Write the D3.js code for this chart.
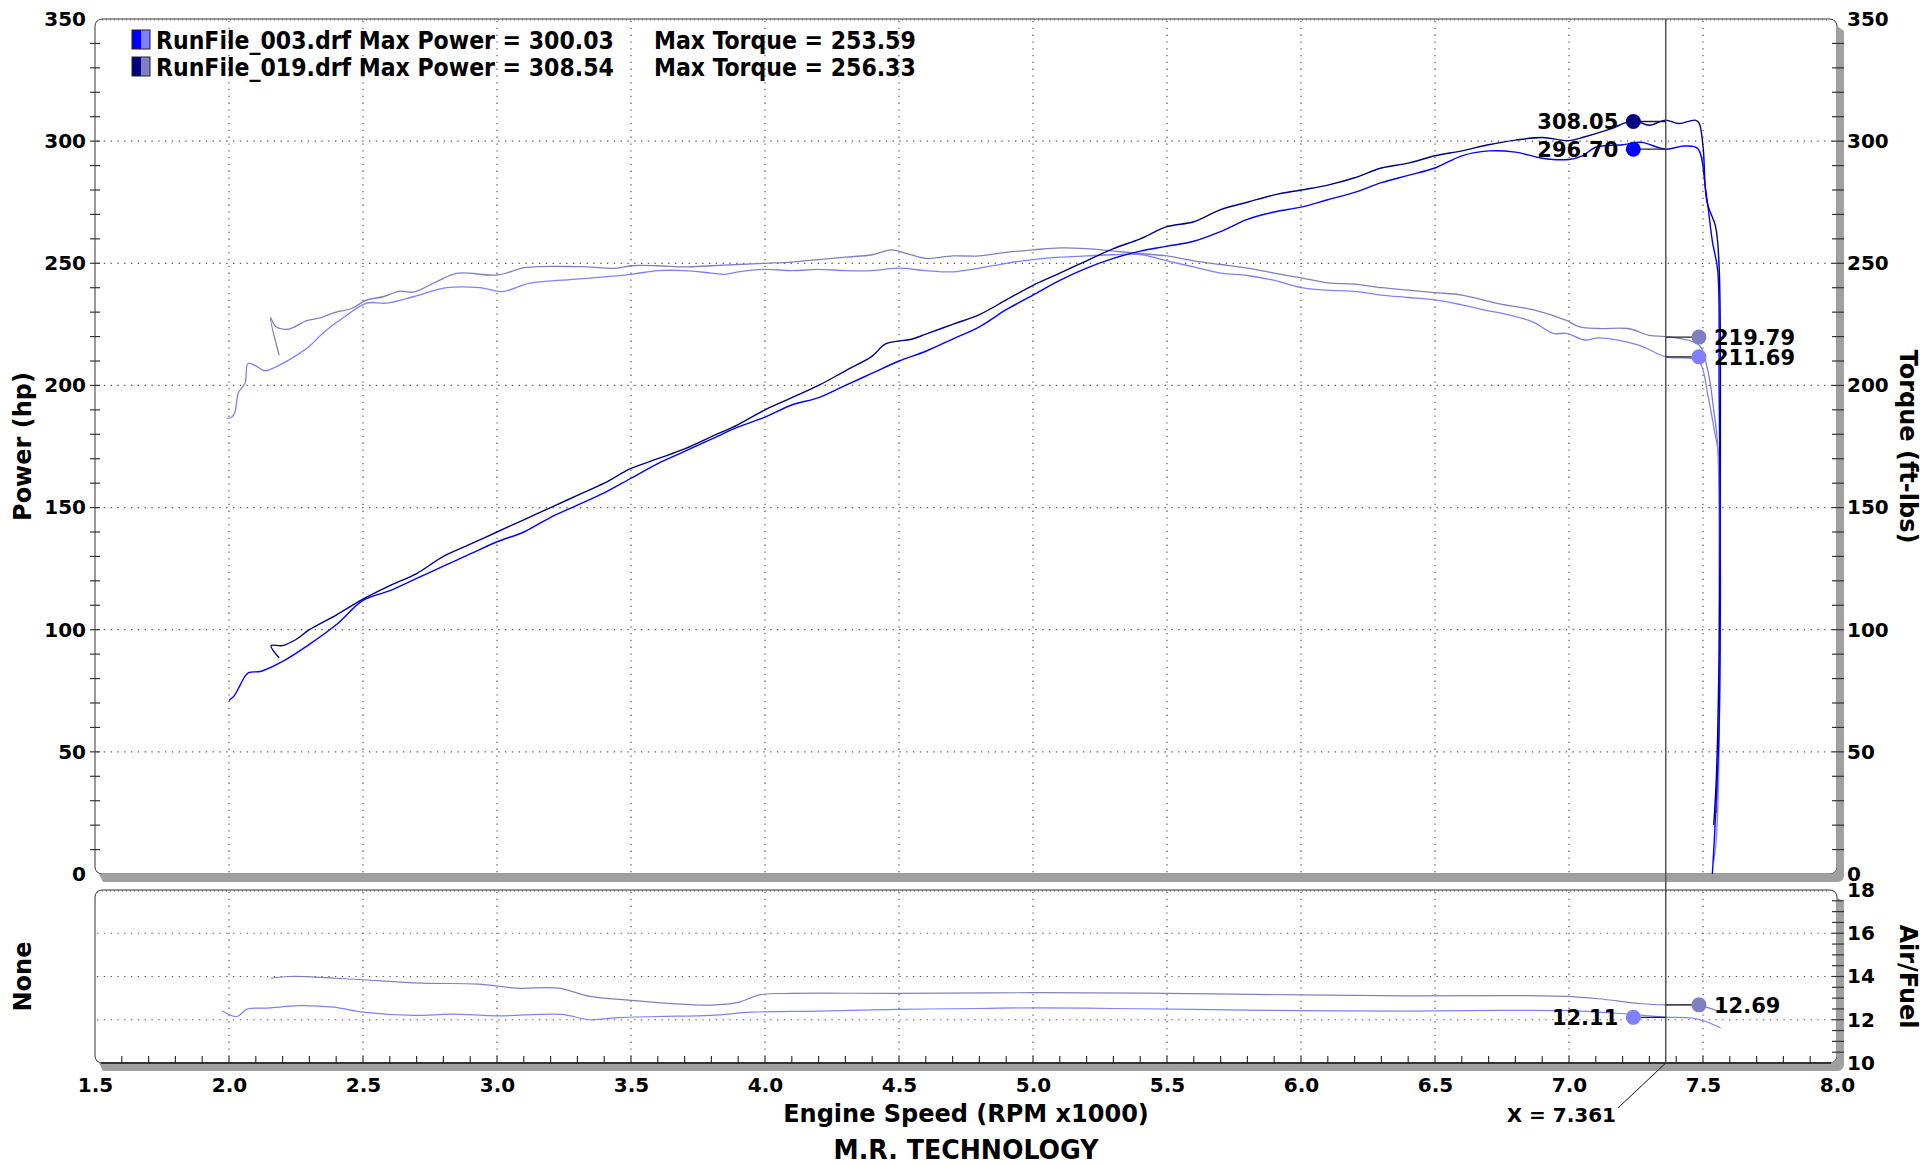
<!DOCTYPE html>
<html>
<head>
<meta charset="utf-8">
<script src="https://cdn.jsdelivr.net/npm/d3@7"></script>
<style>
  body { margin: 0; background: #fff; }
  svg { display: block; font-family: "DejaVu Sans", Verdana, sans-serif; font-weight: bold; }
</style>
</head>
<body>
<div id="chart"></div>
<script>
// rpm (x1000) / value pairs
var power003 = [
  [2.0, 71], [2.02, 73], [2.04, 77], [2.06, 81], [2.075, 82.5], [2.12, 83], [2.2, 87],
  [2.3, 94], [2.4, 102], [2.5, 112], [2.6, 116], [2.7, 121], [2.8, 126], [2.9, 131],
  [3.0, 136], [3.1, 140], [3.2, 146], [3.3, 151], [3.4, 156], [3.5, 162], [3.6, 168],
  [3.7, 173], [3.8, 178], [3.9, 183], [4.0, 187], [4.1, 192], [4.2, 195], [4.3, 200],
  [4.4, 205], [4.5, 210], [4.6, 214], [4.7, 219], [4.8, 224], [4.9, 231], [5.0, 237],
  [5.1, 243], [5.2, 248], [5.3, 252], [5.4, 255], [5.5, 257], [5.6, 259], [5.7, 263],
  [5.8, 268], [5.9, 271], [6.0, 273], [6.1, 276], [6.2, 279], [6.3, 283], [6.4, 286],
  [6.5, 289], [6.6, 294], [6.7, 296], [6.8, 295.5], [6.9, 293], [7.0, 292.5], [7.05, 294],
  [7.1, 297.5], [7.2, 298.5], [7.27, 299.5], [7.36, 296.7], [7.43, 298], [7.48, 297],
  [7.51, 280], [7.535, 259], [7.555, 247], [7.56, 200], [7.565, 120], [7.56, 60],
  [7.545, 20], [7.535, 0]
];
var power019 = [
  [2.187, 88.5], [2.157, 93.5], [2.2, 93.5], [2.25, 96], [2.3, 100], [2.4, 106], [2.5, 112.5],
  [2.6, 118], [2.7, 123], [2.8, 130], [2.9, 135], [3.0, 140], [3.1, 145], [3.2, 150],
  [3.3, 155], [3.4, 160], [3.5, 166], [3.6, 170], [3.7, 174], [3.8, 179], [3.9, 184],
  [4.0, 190], [4.1, 195], [4.2, 200], [4.3, 206], [4.4, 212], [4.45, 217], [4.55, 219],
  [4.6, 221], [4.7, 225], [4.8, 229], [4.9, 235], [5.0, 241], [5.1, 246], [5.2, 251],
  [5.3, 256], [5.4, 260], [5.5, 265], [5.6, 267], [5.7, 272], [5.8, 275], [5.9, 278],
  [6.0, 280], [6.1, 282], [6.2, 285], [6.3, 289], [6.4, 291], [6.5, 294], [6.6, 296],
  [6.7, 298.5], [6.8, 300.4], [6.9, 301.5], [7.0, 300.2], [7.06, 301.8], [7.15, 304.8],
  [7.24, 308.3], [7.3, 306.5], [7.36, 308.6], [7.41, 307.2], [7.47, 308.6], [7.485, 307.5],
  [7.5, 298], [7.515, 275], [7.547, 265], [7.56, 249], [7.565, 180], [7.56, 90],
  [7.55, 40], [7.54, 20]
];
var torque003 = [
  [1.991, 186.5], [2.01, 187], [2.022, 189], [2.035, 197], [2.06, 201], [2.071, 209],
  [2.1, 208], [2.134, 206], [2.19, 208.4], [2.253, 212.4], [2.3, 216], [2.35, 221.4],
  [2.425, 227.6], [2.514, 233.7], [2.588, 233.7], [2.688, 236.3], [2.812, 240], [2.937, 240],
  [3.02, 238.4], [3.12, 241.8], [3.31, 243.6], [3.5, 245.5], [3.6, 247], [3.7, 247],
  [3.8, 246], [3.85, 245.5], [3.9, 246.5], [4.0, 247.5], [4.1, 247], [4.2, 247.5],
  [4.3, 247], [4.4, 247], [4.5, 248], [4.6, 247], [4.7, 246.5], [4.8, 248], [4.9, 250],
  [5.0, 251.5], [5.1, 252.5], [5.2, 253], [5.3, 253.5], [5.4, 253.6], [5.5, 251],
  [5.6, 248.5], [5.7, 246], [5.8, 245], [5.9, 243], [6.0, 240], [6.1, 239], [6.2, 238.5],
  [6.3, 237], [6.4, 236], [6.5, 235], [6.6, 233], [6.7, 230.5], [6.75, 229.5],
  [6.865, 226], [6.94, 221.3], [6.99, 221.3], [7.06, 218.6], [7.11, 219.5], [7.26, 216.5],
  [7.361, 211.7], [7.46, 211], [7.49, 209], [7.52, 195], [7.545, 180], [7.558, 172],
  [7.562, 120], [7.56, 50], [7.55, 15], [7.54, 5]
];
var torque019 = [
  [2.187, 212.4], [2.155, 227.7], [2.175, 224], [2.22, 223], [2.29, 226.5], [2.34, 227.7],
  [2.4, 230], [2.46, 231.6], [2.514, 235], [2.575, 236.3], [2.638, 238.6], [2.688, 238.2],
  [2.775, 242.5], [2.85, 245.9], [3.0, 245.2], [3.11, 248.3], [3.31, 248.6], [3.45, 248],
  [3.5, 249], [3.6, 249], [3.7, 248.5], [3.8, 249], [3.9, 249.5], [4.0, 250], [4.1, 250.5],
  [4.2, 251.5], [4.3, 252.5], [4.4, 253.5], [4.47, 255.5], [4.53, 254], [4.6, 252],
  [4.7, 253], [4.8, 253], [4.9, 254.5], [5.0, 255.5], [5.1, 256.3], [5.2, 256], [5.3, 255],
  [5.4, 254], [5.5, 253], [5.6, 251], [5.7, 249.5], [5.8, 248], [5.9, 246], [6.0, 244],
  [6.1, 242], [6.2, 241.5], [6.3, 240], [6.4, 239], [6.5, 238], [6.6, 237], [6.74, 233.4],
  [6.865, 231], [6.99, 226.6], [7.04, 224], [7.11, 223.3], [7.22, 223.3], [7.3, 220.5],
  [7.361, 220], [7.46, 218], [7.49, 216], [7.52, 205], [7.54, 190], [7.555, 175],
  [7.56, 120], [7.558, 50], [7.55, 25]
];
var afr003 = [
  [1.974, 12.42], [2.03, 12.15], [2.067, 12.49], [2.146, 12.54], [2.26, 12.65], [2.39, 12.58],
  [2.5, 12.35], [2.69, 12.2], [2.83, 12.26], [3.0, 12.18], [3.24, 12.25], [3.346, 12.0],
  [3.45, 12.1], [3.6, 12.15], [3.8, 12.2], [3.95, 12.35], [4.2, 12.4], [4.5, 12.48],
  [4.8, 12.52], [5.0, 12.55], [5.3, 12.52], [5.6, 12.48], [6.0, 12.42], [6.4, 12.4],
  [6.74, 12.43], [6.99, 12.42], [7.175, 12.3], [7.3, 12.18], [7.361, 12.12], [7.46, 12.08],
  [7.51, 11.92], [7.566, 11.62]
];
var afr019 = [
  [2.156, 13.92], [2.23, 14.0], [2.4, 13.92], [2.5, 13.85], [2.717, 13.69], [2.93, 13.65],
  [3.074, 13.46], [3.23, 13.46], [3.346, 13.08], [3.5, 12.9], [3.65, 12.75], [3.8, 12.68],
  [3.9, 12.8], [3.98, 13.15], [4.1, 13.22], [4.5, 13.22], [5.0, 13.25], [5.5, 13.22],
  [6.0, 13.15], [6.4, 13.1], [6.74, 13.12], [6.988, 13.08], [7.11, 12.97], [7.27, 12.74],
  [7.361, 12.69], [7.46, 12.69], [7.5, 12.62], [7.56, 12.38]
];

var rpmTicks = [1.5, 2.0, 2.5, 3.0, 3.5, 4.0, 4.5, 5.0, 5.5, 6.0, 6.5, 7.0, 7.5, 8.0];
var powerTicks = [0, 50, 100, 150, 200, 250, 300, 350];
var afrTicks = [10, 12, 14, 16, 18];
var legendRows = [
  ["RunFile_003.drf Max Power = 300.03", "Max Torque = 253.59"],
  ["RunFile_019.drf Max Power = 308.54", "Max Torque = 256.33"]
];
var cursorRpm = 7.361;
// cursor readouts: rpm where the dot sits, value, label side
var mainReadouts = [
  [7.24, 308.05, "left"], [7.24, 296.70, "left"],
  [7.485, 219.79, "right"], [7.485, 211.69, "right"]
];
var afrReadouts = [[7.485, 12.69, "right"], [7.24, 12.11, "left"]];

var c003 = { power: "#0000ff", torque: "#8080ff" };
var c019 = { power: "#000080", torque: "#8080c0" };

var W = 1929, H = 1166;
var left = 95, right = 1837;
var mainTop = 19, mainBottom = 874;
var afrTop = 890, afrBottom = 1063;

var svg = d3.select("#chart").append("svg").attr("width", W).attr("height", H);
svg.append("rect").attr("width", W).attr("height", H).attr("fill", "#fff");

var x = d3.scaleLinear().domain([1.5, 8.0]).range([left, right]);
var yMain = d3.scaleLinear().domain([0, 350]).range([mainBottom, mainTop]);
var yAfr = d3.scaleLinear().domain([10, 18]).range([afrBottom, afrTop]);

// panel frames
function drawFrame(top, bottom) {
  var g = svg.append("g");
  g.append("rect")
    .attr("x", left).attr("y", top)
    .attr("width", right - left).attr("height", bottom - top)
    .attr("rx", 7).attr("ry", 7)
    .attr("fill", "#fff").attr("stroke", "#333").attr("stroke-width", 1);
  // fine ticks along the top edge
  g.append("line")
    .attr("x1", left + 7).attr("x2", right - 7)
    .attr("y1", top + 1).attr("y2", top + 1)
    .attr("stroke", "#555").attr("stroke-width", 1.2).attr("stroke-dasharray", "1,3");
  // grey shadow right + bottom
  g.append("path")
    .attr("d",
      "M" + (right) + "," + (top + 7) +
      " L" + (right + 7) + "," + (top + 12) +
      " L" + (right + 7) + "," + (bottom + 1) +
      " Q" + (right + 7) + "," + (bottom + 8) + " " + right + "," + (bottom + 8) +
      " L" + (left + 8) + "," + (bottom + 8) +
      " L" + (left + 4) + "," + bottom +
      " L" + (right - 7) + "," + bottom +
      " Q" + right + "," + bottom + " " + right + "," + (bottom - 7) + " Z")
    .attr("fill", "#a0a0a0");
  return g;
}
drawFrame(mainTop, mainBottom);
drawFrame(afrTop, afrBottom);

// grid
var grid = svg.append("g")
  .attr("stroke", "#555").attr("stroke-width", 1.2).attr("stroke-dasharray", "1.3,5.5");
grid.selectAll(".vg").data(rpmTicks.slice(1, -1)).enter().append("line")
  .attr("x1", (d) => x(d)).attr("x2", (d) => x(d))
  .attr("y1", mainTop + 2).attr("y2", mainBottom - 1);
grid.selectAll(".vg2").data(rpmTicks.slice(1, -1)).enter().append("line")
  .attr("x1", (d) => x(d)).attr("x2", (d) => x(d))
  .attr("y1", afrTop + 2).attr("y2", afrBottom - 2);
grid.selectAll(".hg").data(powerTicks.slice(1, -1)).enter().append("line")
  .attr("x1", left + 2).attr("x2", right - 1)
  .attr("y1", (d) => yMain(d)).attr("y2", (d) => yMain(d));
grid.selectAll(".hg2").data(afrTicks.slice(1, -1)).enter().append("line")
  .attr("x1", left + 2).attr("x2", right - 1)
  .attr("y1", (d) => yAfr(d)).attr("y2", (d) => yAfr(d));

// minor tick marks
var ticks = svg.append("g").attr("stroke", "#333").attr("stroke-width", 1.2);
var minorPower = d3.range(10, 350, 10);
ticks.selectAll(".lt").data(minorPower).enter().append("line")
  .attr("x1", left - 5).attr("x2", left + 5)
  .attr("y1", (d) => yMain(d)).attr("y2", (d) => yMain(d));
ticks.selectAll(".rt").data(minorPower).enter().append("line")
  .attr("x1", right - 5).attr("x2", right + 7)
  .attr("y1", (d) => yMain(d)).attr("y2", (d) => yMain(d));
var minorAfr = d3.range(10.5, 18, 0.5);
ticks.selectAll(".rt2").data(minorAfr).enter().append("line")
  .attr("x1", right - 5).attr("x2", right + 7)
  .attr("y1", (d) => yAfr(d)).attr("y2", (d) => yAfr(d));
var minorRpm = d3.range(16, 80, 1).map((d) => d / 10);
ticks.selectAll(".bt").data(minorRpm).enter().append("line")
  .attr("x1", (d) => x(d)).attr("x2", (d) => x(d))
  .attr("y1", afrBottom - 7).attr("y2", afrBottom);
svg.append("line")
  .attr("x1", left + 6).attr("x2", right - 6)
  .attr("y1", afrBottom).attr("y2", afrBottom)
  .attr("stroke", "#111").attr("stroke-width", 1.6);

// axes (labels only)
function styleAxis(g) {
  g.select(".domain").remove();
  g.selectAll("text").attr("font-family", "DejaVu Sans").attr("font-weight", "bold")
    .attr("font-size", 20).attr("fill", "#000");
}
svg.append("g").attr("transform", "translate(" + left + ",0)")
  .call(d3.axisLeft(yMain).tickValues(powerTicks).tickSize(0).tickPadding(9))
  .call(styleAxis);
svg.append("g").attr("transform", "translate(" + right + ",0)")
  .call(d3.axisRight(yMain).tickValues(powerTicks).tickSize(0).tickPadding(10))
  .call(styleAxis);
svg.append("g").attr("transform", "translate(" + right + ",0)")
  .call(d3.axisRight(yAfr).tickValues(afrTicks).tickSize(0).tickPadding(10))
  .call(styleAxis);
svg.append("g").attr("transform", "translate(0," + afrBottom + ")")
  .call(d3.axisBottom(x).tickValues(rpmTicks).tickFormat(d3.format(".1f")).tickSize(0).tickPadding(15))
  .call(styleAxis);

// axis titles
function title(txt, tx, ty, rot) {
  svg.append("text")
    .attr("transform", "translate(" + tx + "," + ty + ") rotate(" + rot + ")")
    .attr("text-anchor", "middle").attr("font-size", 24).text(txt);
}
title("Power (hp)", 31, (mainTop + mainBottom) / 2, -90);
title("None", 31, (afrTop + afrBottom) / 2, -90);
title("Torque (ft-lbs)", 1900, (mainTop + mainBottom) / 2, 90);
title("Air/Fuel", 1900, (afrTop + afrBottom) / 2, 90);
title("Engine Speed (RPM x1000)", (left + right) / 2, 1122, 0);

svg.append("text")
  .attr("x", (left + right) / 2).attr("y", 1159)
  .attr("text-anchor", "middle")
  .attr("font-family", "DejaVu Sans Condensed").attr("font-size", 26)
  .attr("textLength", 265).attr("lengthAdjust", "spacingAndGlyphs")
  .text("M.R. TECHNOLOGY");

// curves
var mainLine = d3.line().x((d) => x(d[0])).y((d) => yMain(d[1])).curve(d3.curveCatmullRom.alpha(0.5));
var afrLine = d3.line().x((d) => x(d[0])).y((d) => yAfr(d[1])).curve(d3.curveCatmullRom.alpha(0.5));

var curves = [
  [torque019, c019.torque, 1.3, mainLine],
  [torque003, c003.torque, 1.3, mainLine],
  [power019, c019.power, 1.4, mainLine],
  [power003, c003.power, 1.4, mainLine],
  [afr019, c019.torque, 1.2, afrLine],
  [afr003, c003.torque, 1.2, afrLine]
];
svg.append("g").selectAll("path").data(curves).enter().append("path")
  .attr("d", (d) => d[3](d[0]))
  .attr("fill", "none")
  .attr("stroke", (d) => d[1])
  .attr("stroke-width", (d) => d[2])
  .attr("stroke-linejoin", "round");

// cursor
var cx = x(cursorRpm);
svg.append("line")
  .attr("x1", cx).attr("x2", cx).attr("y1", mainTop).attr("y2", afrBottom)
  .attr("stroke", "#555").attr("stroke-width", 1.5);
svg.append("line")
  .attr("x1", cx).attr("x2", 1618).attr("y1", afrBottom).attr("y2", 1108)
  .attr("stroke", "#111").attr("stroke-width", 1);
svg.append("text")
  .attr("x", 1616).attr("y", 1122).attr("text-anchor", "end")
  .attr("font-size", 20).text("X = " + cursorRpm.toFixed(3));

// readouts
var mainColors = [c019.power, c003.power, c019.torque, c003.torque];
var afrColors = [c019.torque, c003.torque];
function readouts(list, colors, yScale, fmt) {
  var g = svg.append("g");
  g.selectAll("line").data(list).enter().append("line")
    .attr("x1", cx).attr("x2", (d) => x(d[0]))
    .attr("y1", (d) => yScale(d[1])).attr("y2", (d) => yScale(d[1]))
    .attr("stroke", "#222").attr("stroke-width", 1.3);
  g.selectAll("circle").data(list).enter().append("circle")
    .attr("cx", (d) => x(d[0])).attr("cy", (d) => yScale(d[1]))
    .attr("r", 7.5).attr("fill", (d, i) => colors[i]);
  g.selectAll("text").data(list).enter().append("text")
    .attr("x", (d) => x(d[0]) + (d[2] === "left" ? -15 : 15))
    .attr("y", (d) => yScale(d[1]) + 8)
    .attr("text-anchor", (d) => (d[2] === "left" ? "end" : "start"))
    .attr("font-size", 21)
    .text((d) => d3.format(fmt)(d[1]));
}
readouts(mainReadouts, mainColors, yMain, ".2f");
readouts(afrReadouts, afrColors, yAfr, ".2f");

// legend
var legend = svg.append("g");
var swatch = [[c003.power, c003.torque], [c019.power, c019.torque]];
legendRows.forEach(function (row, i) {
  var ly = 30 + i * 27;
  legend.append("rect").attr("x", 132).attr("y", ly).attr("width", 9).attr("height", 19).attr("fill", swatch[i][0]);
  legend.append("rect").attr("x", 141).attr("y", ly).attr("width", 9).attr("height", 19).attr("fill", swatch[i][1]);
  legend.append("rect").attr("x", 132).attr("y", ly).attr("width", 18).attr("height", 19)
    .attr("fill", "none").attr("stroke", "#222").attr("stroke-width", 1);
  legend.append("text").attr("x", 156).attr("y", ly + 19)
    .attr("font-family", "DejaVu Sans Condensed").attr("font-size", 24.5).text(row[0]);
  legend.append("text").attr("x", 654).attr("y", ly + 19)
    .attr("font-family", "DejaVu Sans Condensed").attr("font-size", 24.5).text(row[1]);
});
</script>
</body>
</html>
